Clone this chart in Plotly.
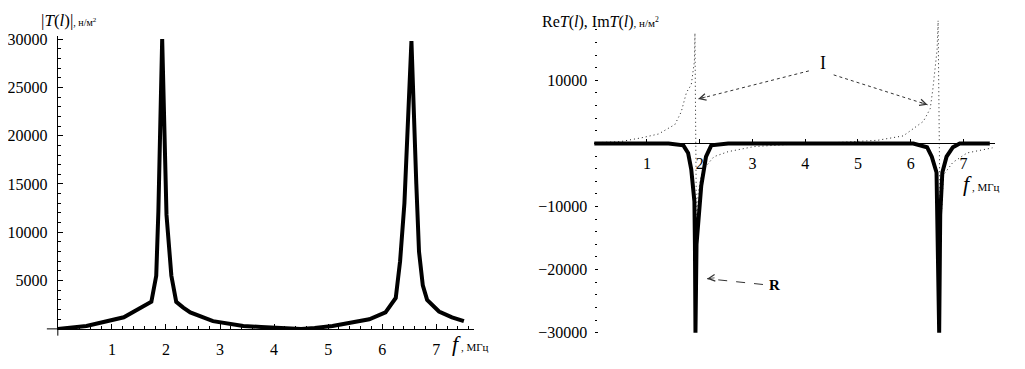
import plotly.graph_objects as go

# the page shows the figure with an 8 px body margin, so the figure is laid out
# on a 1009 x 353 canvas offset by 8 px; reference pixel positions are mapped onto it
W, H = 1025, 369
OFF = 8
FW, FH = W - 2 * OFF, H - 2 * OFF
FONT = "Liberation Serif"

# ---- left panel: |T(l)| vs f (MHz)
f_abs = [0, 0.53, 1.22, 1.53, 1.73, 1.82, 1.86, 1.93, 2.01, 2.1, 2.19, 2.32, 2.45,
         2.87, 3.43, 3.76, 4.16, 4.5, 4.75, 5.08, 5.76, 6.06, 6.25, 6.33, 6.41,
         6.54, 6.63, 6.68, 6.75, 6.83, 7.05, 7.29, 7.51]
t_abs = [0, 300, 1200, 2200, 2800, 5500, 12200, 30000, 11800, 5500, 2800, 2200, 1700,
         800, 300, 200, 100, 0, 100, 300, 1000, 1700, 3200, 7000, 13000,
         29800, 15000, 8000, 4500, 3000, 1800, 1200, 800]
abs_ticks = [5000, 10000, 15000, 20000, 25000, 30000]
abs_ticktext = ["5000", "10000", "15000", "20000", "25000", "30000"]
f_ticks = [1, 2, 3, 4, 5, 6, 7]

# ---- right panel: Re T(l) (thick) and Im T(l) (dotted)
f_re = [0, 1.41, 1.69, 1.78, 1.84, 1.9, 1.91, 1.92, 1.94, 2.03, 2.12, 2.22, 2.54,
        6.05, 6.31, 6.4, 6.49, 6.5, 6.54, 6.56, 6.6, 6.68, 6.8, 6.93, 7.5]
re_t = [0, 0, -300, -1500, -4100, -9200, -16000, -30000, -16000, -6700, -2100, -300, 0,
        0, -600, -2100, -4600, -11300, -30000, -11300, -4600, -2100, -600, 0, 0]
f_im = [0, 0.5, 0.9, 1.22, 1.53, 1.65, 1.75, 1.84, 1.9, 1.91, 1.94, 1.97, 2.03, 2.1,
        2.27, 2.54, 3.03, 3.5, 4.0, 4.5, 5.0, 5.37, 5.86, 6.24, 6.37, 6.42, 6.5,
        6.52, 6.56, 6.62, 6.8, 7.07, 7.31, 7.55]
im_t = [100, 300, 900, 1500, 3000, 5000, 8100, 9300, 13000, 17500, -15000, -8000, -5000,
        -3800, -2100, -1300, -500, -200, 0, 100, 300, 500, 1200, 3500, 5500, 8600,
        14800, 19500, -15000, -5000, -3000, -1500, -1100, -700]
re_ticks = [-30000, -20000, -10000, 10000]
re_ticktext = ["\u221230000", "\u221220000", "\u221210000", "10000"]


def px(x):
    return (x - OFF) / FW


def py(y):
    return 1 - (y - OFF) / FH


fig = go.Figure()
fig.add_trace(go.Scatter(x=f_abs, y=t_abs, mode="lines", xaxis="x", yaxis="y",
                         line=dict(color="black", width=4), cliponaxis=False,
                         showlegend=False))
fig.add_trace(go.Scatter(x=f_im, y=im_t, mode="lines", xaxis="x2", yaxis="y2",
                         line=dict(color="#222", width=1, dash="1px,3px"),
                         cliponaxis=False, showlegend=False))
fig.add_trace(go.Scatter(x=f_re, y=re_t, mode="lines", xaxis="x2", yaxis="y2",
                         line=dict(color="black", width=4), cliponaxis=False,
                         showlegend=False))

tickfont = dict(family=FONT, size=16, color="black")

fig.update_layout(
    width=FW, height=FH,
    margin=dict(l=0, r=0, t=0, b=0),
    paper_bgcolor="white", plot_bgcolor="white",
    xaxis=dict(domain=[px(54), px(472)], range=[0, 7.7], anchor="y",
               showgrid=False, zeroline=False, showline=True, linecolor="black",
               linewidth=1, ticks="inside", ticklen=5, tickcolor="black",
               tickvals=f_ticks, tickfont=tickfont, ticklabelstandoff=6,
               minor=dict(dtick=0.2, ticks="inside", ticklen=3, tickcolor="black")),
    yaxis=dict(domain=[py(335), py(32)], range=[0, 30300], anchor="x",
               showgrid=False, zeroline=False, showline=True, linecolor="black",
               linewidth=1, ticks="inside", ticklen=5, tickcolor="black",
               tickvals=abs_ticks, ticktext=abs_ticktext, tickfont=tickfont,
               ticklabelstandoff=6,
               minor=dict(dtick=1000, ticks="inside", ticklen=3, tickcolor="black")),
    xaxis2=dict(domain=[px(592.5), px(995)], range=[0, 7.6], anchor="free",
                position=py(143),
                showgrid=False, zeroline=False, showline=True, linecolor="black",
                linewidth=1, ticks="inside", ticklen=4, tickcolor="black",
                tickvals=f_ticks, tickfont=tickfont, ticklabelstandoff=5),
    yaxis2=dict(domain=[py(340.9), py(15.7)], range=[-30300, 19500], anchor="free",
                position=px(592.5),
                showgrid=False, zeroline=False, showline=False,
                ticks="inside", ticklen=3, tickcolor="black",
                tickvals=re_ticks, ticktext=re_ticktext, tickfont=tickfont,
                ticklabelstandoff=7,
                minor=dict(dtick=2000, ticks="inside", ticklen=2, tickcolor="black")),
)

# axis overhangs of the left panel (Mathematica style)
fig.add_shape(type="line", xref="paper", yref="paper", x0=px(54), x1=px(54),
              y0=py(335), y1=py(342), line=dict(color="black", width=1))
fig.add_shape(type="line", xref="paper", yref="paper", x0=px(43), x1=px(54),
              y0=py(335), y1=py(335), line=dict(color="black", width=1))

# axis titles
fig.add_annotation(xref="paper", yref="paper", x=px(35), y=py(15.5), xanchor="left",
                   yanchor="middle", showarrow=False,
                   text="<span style='font-size:17px'>|<i>T</i>(<i>l</i>)|</span>"
                        "<span style='font-size:10px'>, н/м<sup>2</sup></span>",
                   font=dict(family=FONT, color="black"))
fig.add_annotation(xref="paper", yref="paper", x=px(448), y=py(350), xanchor="left",
                   yanchor="middle", showarrow=False,
                   text="<span style='font-size:22px'><i>f</i></span>"
                        "<span style='font-size:11px'> , МГц</span>",
                   font=dict(family=FONT, color="black"))
fig.add_annotation(xref="paper", yref="paper", x=px(538), y=py(17), xanchor="left",
                   yanchor="middle", showarrow=False,
                   text="<span style='font-size:16px'>Re<i>T</i>(<i>l</i>), "
                        "Im<i>T</i>(<i>l</i>)</span>"
                        "<span style='font-size:11px'>, н/м<sup>2</sup></span>",
                   font=dict(family=FONT, color="black"))
fig.add_annotation(xref="paper", yref="paper", x=px(961), y=py(185), xanchor="left",
                   yanchor="middle", showarrow=False,
                   text="<span style='font-size:22px'><i>f</i></span>"
                        "<span style='font-size:11px'> , МГц</span>",
                   font=dict(family=FONT, color="black"))

# curve labels with arrows
fig.add_annotation(xref="x2", yref="y2", x=4.33, y=12700, text="I", showarrow=False,
                   font=dict(family=FONT, size=18, color="black"))
fig.add_annotation(xref="x2", yref="y2", x=3.41, y=-22500, text="<b>R</b>",
                   showarrow=False, font=dict(family=FONT, size=15, color="black"))

arrows = [
    # (x0, y0, x1, y1, dash, ax, ay)
    (4.07, 11500, 1.97, 7040, "dot", 9, -2.4),
    (4.54, 10870, 6.32, 6125, "dot", -9, -3),
    (3.20, -22360, 2.14, -21440, "dash", 9, -1),
]
for x0, y0, x1, y1, dash, ax, ay in arrows:
    fig.add_shape(type="line", xref="x2", yref="y2", x0=x0, y0=y0, x1=x1, y1=y1,
                  line=dict(color="#333", width=1, dash=dash))
    fig.add_annotation(xref="x2", yref="y2", x=x1, y=y1, ax=ax, ay=ay, text="",
                       showarrow=True, arrowhead=5, arrowsize=1.6, arrowwidth=0.8,
                       arrowcolor="#333")

fig.write_html("out.html")
